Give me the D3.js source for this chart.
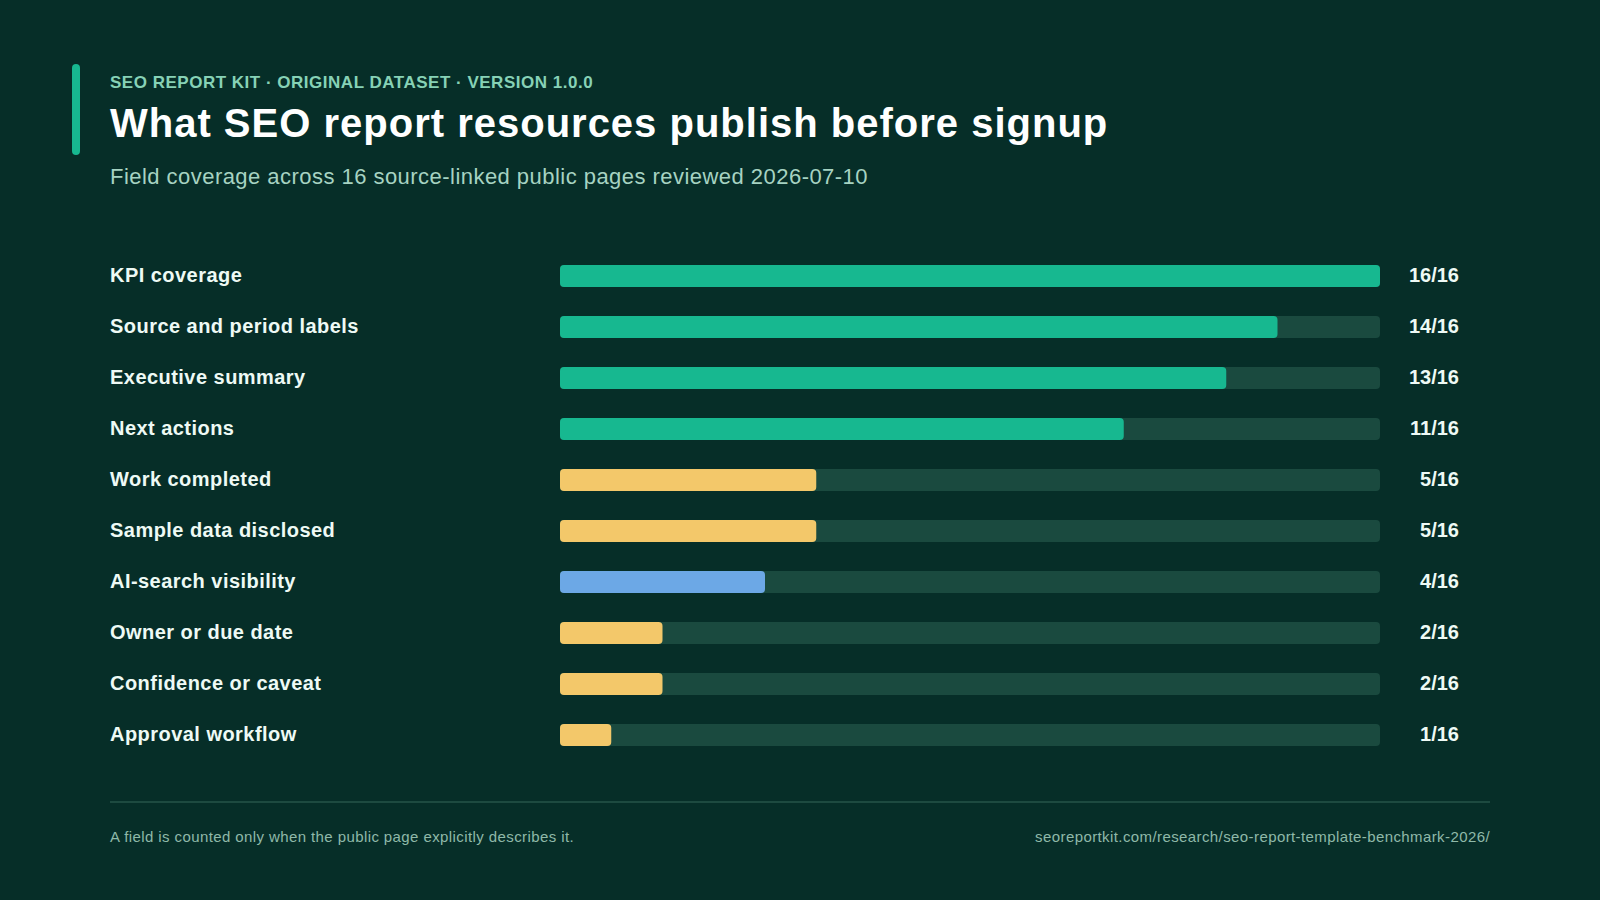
<!DOCTYPE html>
<html>
<head>
<meta charset="utf-8">
<script src="https://cdn.jsdelivr.net/npm/d3@7"></script>
<style>
  html, body { margin: 0; padding: 0; background: #062e28; }
  svg { display: block; font-family: "Liberation Sans", Arial, Helvetica, sans-serif; }
</style>
</head>
<body>
<svg id="chart" width="1600" height="900"></svg>
<script>
// Field coverage data (count of 16 pages)
var fields = [
  'KPI coverage',
  'Source and period labels',
  'Executive summary',
  'Next actions',
  'Work completed',
  'Sample data disclosed',
  'AI-search visibility',
  'Owner or due date',
  'Confidence or caveat',
  'Approval workflow'
];
var counts = [16, 14, 13, 11, 5, 5, 4, 2, 2, 1];
var groups = ['common', 'common', 'common', 'common', 'gap', 'gap', 'ai', 'gap', 'gap', 'gap'];
var total  = 16;

var colors = { common: '#17b890', gap: '#f3c86a', ai: '#6ca8e6' };

var svg = d3.select('#chart');
var W = 1600, H = 900;

svg.append('rect').attr('width', W).attr('height', H).attr('fill', '#062e28');

// Header
svg.append('rect')
  .attr('x', 72).attr('y', 64)
  .attr('width', 8).attr('height', 91)
  .attr('rx', 4)
  .attr('fill', '#17b890');

svg.append('text')
  .attr('x', 110).attr('y', 88)
  .attr('fill', '#86d2b6')
  .attr('font-size', 17).attr('font-weight', 700)
  .attr('letter-spacing', '0.03em')
  .text('SEO REPORT KIT \u00b7 ORIGINAL DATASET \u00b7 VERSION 1.0.0');

svg.append('text')
  .attr('x', 110).attr('y', 137)
  .attr('fill', '#ffffff')
  .attr('font-size', 40).attr('font-weight', 700)
  .attr('letter-spacing', '0.025em')
  .text('What SEO report resources publish before signup');

svg.append('text')
  .attr('x', 110).attr('y', 184)
  .attr('fill', '#a6d3c2')
  .attr('font-size', 22)
  .attr('letter-spacing', '0.021em')
  .text('Field coverage across 16 source-linked public pages reviewed 2026-07-10');

// Scales
var x = d3.scaleLinear().domain([0, total]).range([560, 1380]);
var y = d3.scaleBand().domain(fields).range([250.5, 760.5]).paddingInner(0.57).paddingOuter(0.285);
var barH = 22;

var rows = svg.append('g').selectAll('g')
  .data(fields)
  .enter()
  .append('g')
  .attr('transform', function(d){ return 'translate(0,' + (y(d) + y.bandwidth() / 2) + ')'; });

rows.append('text')
  .attr('x', 110).attr('y', 0)
  .attr('dy', '0.32em')
  .attr('fill', '#eefaf5')
  .attr('font-size', 20).attr('font-weight', 700)
  .attr('letter-spacing', '0.023em')
  .text(function(d){ return d; });

rows.append('rect')
  .attr('x', x(0)).attr('y', -barH / 2)
  .attr('width', x(total) - x(0)).attr('height', barH)
  .attr('rx', 4)
  .attr('fill', '#1a4a3f');

rows.append('rect')
  .attr('x', x(0)).attr('y', -barH / 2)
  .attr('width', function(d, i){ return x(counts[i]) - x(0); })
  .attr('height', barH)
  .attr('rx', 4)
  .attr('fill', function(d, i){ return colors[groups[i]]; });

rows.append('text')
  .attr('x', 1459).attr('y', 0)
  .attr('dy', '0.32em')
  .attr('text-anchor', 'end')
  .attr('fill', '#eefaf5')
  .attr('font-size', 20).attr('font-weight', 700)
  .text(function(d, i){ return counts[i] + '/' + total; });

// Footer
svg.append('line')
  .attr('x1', 110).attr('x2', 1490)
  .attr('y1', 802).attr('y2', 802)
  .attr('stroke', '#1d4a40').attr('stroke-width', 2);

svg.append('text')
  .attr('x', 110).attr('y', 842)
  .attr('fill', '#8fb9a9')
  .attr('font-size', 15)
  .attr('letter-spacing', '0.027em')
  .text('A field is counted only when the public page explicitly describes it.');

svg.append('text')
  .attr('x', 1490).attr('y', 842)
  .attr('text-anchor', 'end')
  .attr('fill', '#8fb9a9')
  .attr('font-size', 15)
  .attr('letter-spacing', '0.027em')
  .text('seoreportkit.com/research/seo-report-template-benchmark-2026/');
</script>
</body>
</html>
